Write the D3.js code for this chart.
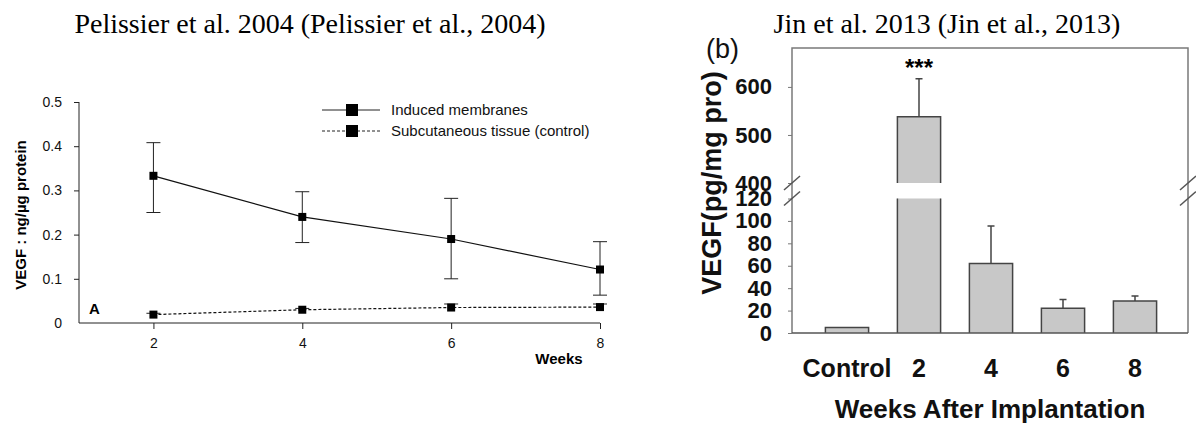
<!DOCTYPE html>
<html>
<head>
<meta charset="utf-8">
<script src="https://cdn.jsdelivr.net/npm/d3@7"></script>
<style>
  body { margin: 0; background: #fff; }
  svg { display: block; }
</style>
</head>
<body>
<svg id="chart" width="1196" height="426"></svg>
<script>
// ---- left panel: Pelissier et al. 2004 ----
const weeks = [2, 4, 6, 8];
const membraneMean = [0.333, 0.24, 0.19, 0.121];
const membraneLow = [0.25, 0.182, 0.10, 0.063];
const membraneHigh = [0.408, 0.297, 0.282, 0.184];
const controlMean = [0.019, 0.03, 0.035, 0.036];
const controlHigh = [0.022, 0.033, 0.043, 0.043];
const leftYTicks = [0, 0.1, 0.2, 0.3, 0.4, 0.5];
const legendLabels = ["Induced membranes", "Subcutaneous tissue (control)"];

// ---- right panel: Jin et al. 2013 ----
const groups = ["Control", "2", "4", "6", "8"];
const vegfMean = [5, 538, 62, 22, 28.5];
const vegfErrTop = [null, 617, 95.5, 30, 33];
const lowerTicks = [0, 20, 40, 60, 80, 100, 120];
const upperTicks = [400, 500, 600];

const titles = ["Pelissier et al. 2004 (Pelissier et al., 2004)", "Jin et al. 2013 (Jin et al., 2013)"];

const svg = d3.select("#chart");
const sans = "'Liberation Sans', Arial, sans-serif";

// titles
svg.append("text").attr("x", 310).attr("y", 33).attr("text-anchor", "middle")
    .style("font-family", "'Liberation Serif', serif").style("font-size", "28px")
    .text(titles[0]);
svg.append("text").attr("x", 947).attr("y", 33).attr("text-anchor", "middle")
    .style("font-family", "'Liberation Serif', serif").style("font-size", "28px")
    .text(titles[1]);

/**
 * Left line chart
 */
function drawLeft() {
    const x = d3.scaleLinear().domain([1, 8]).range([79, 600]);
    const y = d3.scaleLinear().domain([0, 0.5]).range([323, 102]);
    const g = svg.append("g").style("font-family", sans);

    // axes
    const yAxis = g.append("g").attr("transform", "translate(79,0)")
        .call(d3.axisLeft(y).tickValues(leftYTicks).tickSize(5).tickPadding(12)
            .tickFormat(d => d === 0 ? "0" : d3.format(".1f")(d)));
    yAxis.select(".domain").attr("d", `M0,${y(0.5)}V${y(0)}`).attr("stroke", "#222");
    yAxis.selectAll(".tick line").attr("stroke", "#222");
    yAxis.selectAll(".tick").filter(d => d === 0).select("line").remove();
    yAxis.selectAll("text").style("font-size", "14px").attr("fill", "#111");

    const xAxis = g.append("g").attr("transform", "translate(0,323)")
        .call(d3.axisBottom(x).tickValues(weeks).tickSize(6).tickPadding(9).tickFormat(d3.format("d")));
    xAxis.select(".domain").attr("d", `M79,0H600`).attr("stroke", "#222");
    xAxis.selectAll(".tick line").attr("stroke", "#222");
    xAxis.selectAll("text").style("font-size", "14px").attr("fill", "#111");

    g.append("text").attr("x", 559).attr("y", 364).attr("text-anchor", "middle")
        .style("font-size", "15px").style("font-weight", "bold").text("Weeks");
    g.append("text").attr("x", 89).attr("y", 314)
        .style("font-size", "15px").style("font-weight", "bold").text("A");
    g.append("text").attr("transform", "translate(26,215) rotate(-90)").attr("text-anchor", "middle")
        .style("font-size", "15px").style("font-weight", "bold").text("VEGF : ng/µg protein");

    const line = d3.line().x((d, i) => x(weeks[i])).y(d => y(d));

    // error bars
    weeks.forEach((w, i) => {
        g.append("path")
            .attr("d", `M${x(w)},${y(membraneLow[i])}V${y(membraneHigh[i])}` +
                `M${x(w) - 7},${y(membraneLow[i])}h14M${x(w) - 7},${y(membraneHigh[i])}h14`)
            .attr("stroke", "#222").attr("fill", "none");
        g.append("path")
            .attr("d", `M${x(w)},${y(controlMean[i])}V${y(controlHigh[i])}M${x(w) - 7},${y(controlHigh[i])}h14`)
            .attr("stroke", "#222").attr("fill", "none");
    });

    g.append("path").datum(membraneMean).attr("d", line)
        .attr("fill", "none").attr("stroke", "#111").attr("stroke-width", 1.2);
    g.append("path").datum(controlMean).attr("d", line)
        .attr("fill", "none").attr("stroke", "#111").attr("stroke-width", 1.2).attr("stroke-dasharray", "3,2");

    g.selectAll(".mk1").data(membraneMean).enter().append("rect")
        .attr("x", (d, i) => x(weeks[i]) - 4).attr("y", d => y(d) - 4)
        .attr("width", 8).attr("height", 8).attr("fill", "#000");
    g.selectAll(".mk2").data(controlMean).enter().append("rect")
        .attr("x", (d, i) => x(weeks[i]) - 4).attr("y", d => y(d) - 4)
        .attr("width", 8).attr("height", 8).attr("fill", "#000");

    // legend
    legendLabels.forEach((lab, i) => {
        const ly = 110 + i * 21;
        g.append("line").attr("x1", 322).attr("x2", 380).attr("y1", ly).attr("y2", ly)
            .attr("stroke", "#222").attr("stroke-dasharray", i === 0 ? null : "3,2");
        g.append("rect").attr("x", 346).attr("y", ly - 6).attr("width", 12).attr("height", 12).attr("fill", "#000");
        g.append("text").attr("x", 391).attr("y", ly + 5).style("font-size", "15px").attr("fill", "#111").text(lab);
    });
}

/**
 * Right bar chart with broken y axis
 */
function drawRight() {
    const left = 792, right = 1188, top = 48, bottom = 333;
    const x = d3.scaleBand().domain(groups).range([811, 1171]).paddingInner(0.4).paddingOuter(0.2);
    const yL = d3.scaleLinear().domain([0, 120]).range([bottom, 198.5]);
    const yU = d3.scaleLinear().domain([400, 681]).range([183, top]);
    const g = svg.append("g").style("font-family", sans);

    // frame
    g.append("path").attr("d", `M${left},${bottom}V${top}H${right}V${bottom}`)
        .attr("fill", "none").attr("stroke", "#7a7a7a").attr("stroke-width", 1.5);

    const axL = g.append("g").attr("transform", `translate(${left},0)`)
        .call(d3.axisLeft(yL).tickValues(lowerTicks).tickSize(4).tickPadding(16));
    const axU = g.append("g").attr("transform", `translate(${left},0)`)
        .call(d3.axisLeft(yU).tickValues(upperTicks).tickSize(4).tickPadding(16));
    [axL, axU].forEach(a => {
        a.select(".domain").remove();
        a.selectAll(".tick line").attr("stroke", "#777");
        a.selectAll("text").style("font-size", "22px").style("font-weight", "bold").attr("fill", "#111");
    });

    // bars
    groups.forEach((k, i) => {
        const x0 = x(k), x1 = x(k) + x.bandwidth(), v = vegfMean[i];
        if (v > 120) {
            g.append("rect").attr("x", x0).attr("y", yL(120)).attr("width", x1 - x0)
                .attr("height", bottom - yL(120)).attr("fill", "#c8c8c8");
            g.append("path").attr("d", `M${x0},${bottom}V${yL(120)}M${x1},${bottom}V${yL(120)}`)
                .attr("stroke", "#444").attr("stroke-width", 1.5).attr("fill", "none");
            g.append("path").attr("d", `M${x0},${yU(400)}V${yU(v)}H${x1}V${yU(400)}`)
                .attr("stroke", "#444").attr("stroke-width", 1.5).attr("fill", "#c8c8c8");
        } else {
            g.append("path").attr("d", `M${x0},${bottom}V${yL(v)}H${x1}V${bottom}`)
                .attr("stroke", "#444").attr("stroke-width", 1.5).attr("fill", "#c8c8c8");
        }
        const e = vegfErrTop[i];
        if (e !== null) {
            const sc = e > 120 ? yU : yL;
            const cx = x0 + x.bandwidth() / 2;
            g.append("path").attr("d", `M${cx},${sc(v)}V${sc(e)}M${cx - 3.5},${sc(e)}h7`)
                .attr("stroke", "#444").attr("stroke-width", 1.5).attr("fill", "none");
        }
    });

    // x axis
    const ax = g.append("g").attr("transform", `translate(0,${bottom})`)
        .call(d3.axisBottom(x).tickSize(0).tickPadding(26));
    ax.select(".domain").attr("d", `M${left},0H${right}`).attr("stroke", "#555").attr("stroke-width", 1.5);
    ax.selectAll("text").style("font-size", "25px").style("font-weight", "bold").attr("fill", "#111");

    // axis breaks
    [left, right].forEach(bx => {
        [yU(400), yL(120)].forEach(by => {
            g.append("line").attr("x1", bx - 8).attr("y1", by + 7).attr("x2", bx + 8).attr("y2", by - 7)
                .attr("stroke", "#555").attr("stroke-width", 1.5);
        });
    });

    g.append("text").attr("x", x("2") + x.bandwidth() / 2).attr("y", 76).attr("text-anchor", "middle")
        .style("font-size", "24px").style("font-weight", "bold").text("***");
    g.append("text").attr("x", 990).attr("y", 418).attr("text-anchor", "middle")
        .style("font-size", "26px").style("font-weight", "bold").attr("fill", "#111")
        .text("Weeks After Implantation");
    g.append("text").attr("transform", "translate(721,183) rotate(-90)").attr("text-anchor", "middle")
        .style("font-size", "27px").style("font-weight", "bold").attr("fill", "#111").text("VEGF(pg/mg pro)");
    g.append("text").attr("x", 706).attr("y", 58).style("font-size", "27px").attr("fill", "#111").text("(b)");
}

drawLeft();
drawRight();
</script>
</body>
</html>
